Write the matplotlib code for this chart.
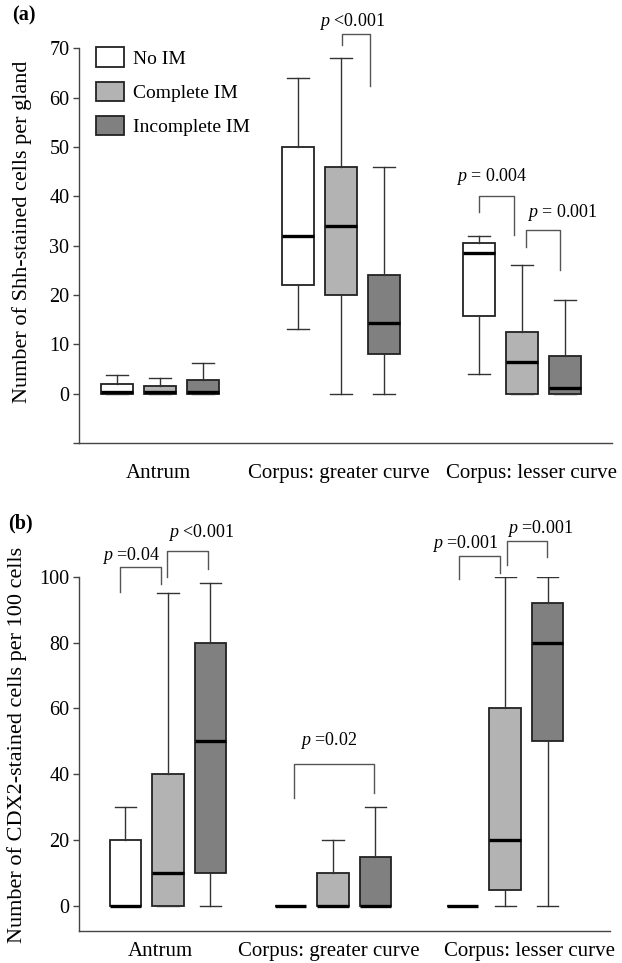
import matplotlib
matplotlib.use("Agg")
import matplotlib.pyplot as plt
from matplotlib.patches import Patch

plt.rcParams['font.family'] = ['Liberation Serif', 'DejaVu Serif']
plt.rcParams['mathtext.fontset'] = 'custom'
plt.rcParams['mathtext.it'] = 'Liberation Serif:italic'
plt.rcParams['mathtext.rm'] = 'Liberation Serif'

# ---------------- data ----------------
categories = ["Antrum", "Corpus: greater curve", "Corpus: lesser curve"]
groups = ["No IM", "Complete IM", "Incomplete IM"]
colors = ["#ffffff", "#b3b3b3", "#808080"]

# order: for each category -> No IM, Complete IM, Incomplete IM
shh_whislo = [0, 0, 0, 13, 0, 0, 4, 0, 0]
shh_q1 = [0, 0, 0, 22, 20, 8, 15.8, 0, 0]
shh_med = [0.3, 0.3, 0.3, 32, 34, 14.3, 28.5, 6.5, 1.2]
shh_q3 = [2.0, 1.5, 2.8, 50, 46, 24, 30.5, 12.5, 7.7]
shh_whishi = [3.7, 3.2, 6.3, 64, 68, 46, 32, 26, 18.9]

cdx_whislo = [0, 0, 0, 0, 0, 0, 0, 0, 0]
cdx_q1 = [0, 0, 10, 0, 0, 0, 0, 5, 50]
cdx_med = [0, 10, 50, 0, 0, 0, 0, 20, 80]
cdx_q3 = [20, 40, 80, 0, 10, 15, 0, 60, 92]
cdx_whishi = [30, 95, 98, 0, 20, 30, 0, 100, 100]

shh_pvals = [r"$\it{p}$ <0.001", r"$\it{p}$ = 0.004", r"$\it{p}$ = 0.001"]
cdx_pvals = [r"$\it{p}$ =0.04", r"$\it{p}$ <0.001", r"$\it{p}$ =0.02",
             r"$\it{p}$ =0.001", r"$\it{p}$ =0.001"]

# ---------------- layout ----------------
fig = plt.figure(figsize=(6.22, 9.63), dpi=100)
axa = fig.add_axes([0.127, 0.540, 0.857, 0.410])
axb = fig.add_axes([0.127, 0.0335, 0.854, 0.3676])

TICK_FS = 14.5
CAT_FS = 15
YLAB_FS = 16
P_FS = 13
LEG_FS = 14

def positions(centers):
    pos = []
    for c in centers:
        pos += [c - 1, c, c + 1]
    return pos

def draw(ax, whislo, q1, med, q3, whishi, centers):
    stats = []
    for i in range(len(med)):
        stats.append(dict(whislo=whislo[i], q1=q1[i], med=med[i], q3=q3[i],
                          whishi=whishi[i]))
    pos = positions(centers)
    for i, (s, p) in enumerate(zip(stats, pos)):
        col = colors[i % 3]
        ax.bxp([s], positions=[p], widths=0.74, showfliers=False,
               patch_artist=True,
               boxprops=dict(facecolor=col, edgecolor="#222222", linewidth=1.3),
               medianprops=dict(color="black", linewidth=2.4),
               whiskerprops=dict(color="#333333", linewidth=1.0),
               capprops=dict(color="#333333", linewidth=1.0),
               capwidths=0.5)

def style(ax):
    for s in ["top", "right"]:
        ax.spines[s].set_visible(False)
    for s in ["left", "bottom"]:
        ax.spines[s].set_color("#444444")
        ax.spines[s].set_linewidth(1.0)
    ax.tick_params(axis="y", direction="out", length=4, width=1.0,
                   color="#444444", labelsize=TICK_FS, pad=3)
    ax.tick_params(axis="x", length=0, labelsize=CAT_FS)

def bracket(ax, x0, x1, y0, ytop, y1):
    ax.plot([x0, x0, x1, x1], [y0, ytop, ytop, y1], color="#555555",
            linewidth=1.0, clip_on=False)

# ---- panel (a) ----
ca = [0, 4.21, 8.42]
draw(axa, shh_whislo, shh_q1, shh_med, shh_q3, shh_whishi, ca)
axa.set_xlim(-1.88, 10.51)
axa.set_ylim(-10, 70)
axa.set_yticks([-10, 0, 10, 20, 30, 40, 50, 60, 70])
axa.set_yticklabels(["", "0", "10", "20", "30", "40", "50", "60", "70"])
axa.set_xticks([-0.03, 4.16, 8.64])
axa.set_xticklabels(categories)
style(axa)
axa.tick_params(axis="x", pad=15)
axa.set_ylabel("Number of Shh-stained cells per gland", fontsize=YLAB_FS)
axa.yaxis.set_label_coords(-0.088, 0.534)

bracket(axa, 4.23, 4.88, 70.6, 72.9, 62.3)
bracket(axa, 7.42, 8.23, 36.8, 40.1, 32.2)
bracket(axa, 8.5, 9.3, 29.7, 33.2, 25.1)
axa.text(4.47, 75.3, shh_pvals[0], ha="center", va="center", fontsize=P_FS)
axa.text(7.72, 43.9, shh_pvals[1], ha="center", va="center", fontsize=P_FS)
axa.text(9.35, 36.8, shh_pvals[2], ha="center", va="center", fontsize=P_FS)

handles = [Patch(facecolor=c, edgecolor="#222222", linewidth=1.3) for c in colors]
axa.legend(handles, groups, loc="upper left", bbox_to_anchor=(0.031, 1.002),
           frameon=False, fontsize=LEG_FS, handlelength=1.45, handleheight=1.15,
           handletextpad=0.5, labelspacing=0.72, borderpad=0, borderaxespad=0)

fig.text(12 / 622, 1 - 15 / 963, "(a)", fontsize=14.5, fontweight="bold",
         ha="left", va="center")

# ---- panel (b) ----
cb = [0, 3.88, 7.93]
draw(axb, cdx_whislo, cdx_q1, cdx_med, cdx_q3, cdx_whishi, cb)
axb.set_xlim(-2.09, 10.4)
axb.set_ylim(-7.5, 100)
axb.set_yticks([0, 20, 40, 60, 80, 100])
axb.set_xticks([-0.18, 3.79, 8.5])
axb.set_xticklabels(categories)
style(axb)
axb.tick_params(axis="x", pad=8)
axb.set_ylabel("Number of CDX2-stained cells per 100 cells", fontsize=YLAB_FS)
axb.yaxis.set_label_coords(-0.097, 0.525)

bracket(axb, -1.13, -0.17, 95.5, 102.9, 97.8)
bracket(axb, -0.02, 0.95, 100, 107.8, 102.2)
bracket(axb, 2.96, 4.85, 32.7, 43, 34.4)
bracket(axb, 6.85, 7.80, 99.2, 106.3, 101.2)
bracket(axb, 7.97, 8.91, 103.5, 111, 105.9)
axb.text(-0.86, 106.6, cdx_pvals[0], ha="center", va="center", fontsize=P_FS)
axb.text(0.79, 113.3, cdx_pvals[1], ha="center", va="center", fontsize=P_FS)
axb.text(3.78, 50.4, cdx_pvals[2], ha="center", va="center", fontsize=P_FS)
axb.text(6.98, 110.2, cdx_pvals[3], ha="center", va="center", fontsize=P_FS)
axb.text(8.75, 114.8, cdx_pvals[4], ha="center", va="center", fontsize=P_FS)

fig.text(8 / 622, 1 - 523 / 963, "(b)", fontsize=14.5, fontweight="bold",
         ha="left", va="center")

fig.savefig("out.png", dpi=100)
